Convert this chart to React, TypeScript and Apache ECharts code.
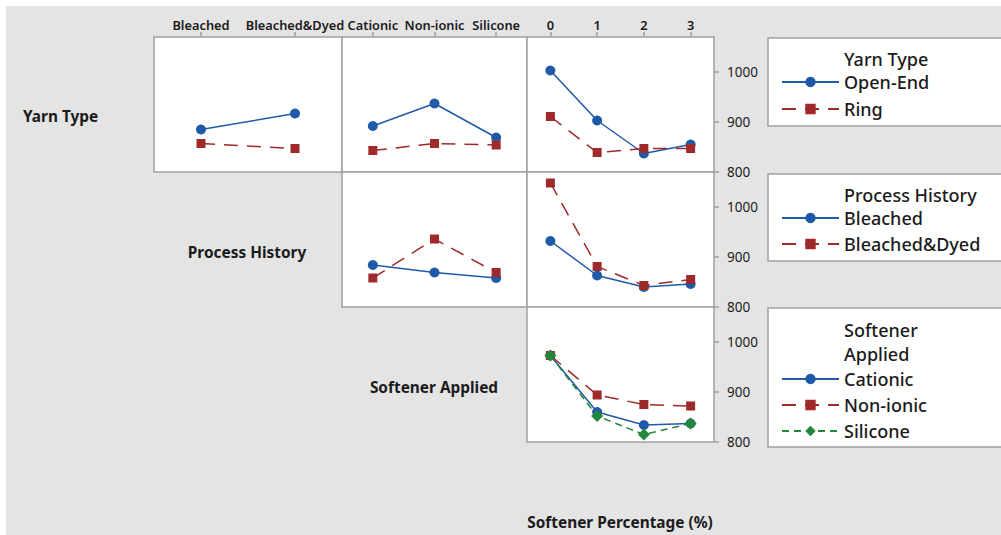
import React, { useEffect, useRef } from "react";
import * as echarts from "echarts";

// ---- categories ----
const processHistory = ["Bleached", "Bleached&Dyed"];
const softeners = ["Cationic", "Non-ionic", "Silicone"];
const percentages = ["0", "1", "2", "3"];
const yarnTypes = ["Open-End", "Ring"];
const yTicks = [800, 900, 1000];
const yMax = 1070;

// ---- means ----
// Row: Yarn Type
const openEndByProcess = [885, 917];
const ringByProcess = [857, 847];
const openEndBySoftener = [892, 937, 869];
const ringBySoftener = [843, 857, 854];
const openEndByPercent = [1003, 903, 837, 855];
const ringByPercent = [911, 839, 847, 847];
// Row: Process History
const bleachedBySoftener = [884, 869, 858];
const dyedBySoftener = [858, 936, 869];
const bleachedByPercent = [932, 863, 840, 846];
const dyedByPercent = [1048, 881, 843, 855];
// Row: Softener Applied
const cationicByPercent = [973, 860, 834, 837];
const nonionicByPercent = [973, 894, 875, 872];
const siliconeByPercent = [973, 852, 815, 837];

const FONT = "'Noto Sans', 'Open Sans', sans-serif";
const TXT = "#1b1b1b";
const BORDER = "#a0a0a0";

const STY = [
  { color: "#1f5aa8", symbol: "circle", size: 10, type: "solid" as any },
  { color: "#9e2a2b", symbol: "rect", size: 9, type: [14, 9] as any },
  { color: "#23873b", symbol: "diamond", size: 12, type: [7, 5] as any },
];

// panel layout: [left, top, width, height]
const panels = [
  { rect: [154, 37, 188, 135], cats: processHistory, top: true, right: false },
  { rect: [342, 37, 185, 135], cats: softeners, top: true, right: false },
  { rect: [527, 37, 187, 135], cats: percentages, top: true, right: true },
  { rect: [342, 172, 185, 135], cats: softeners, top: false, right: false },
  { rect: [527, 172, 187, 135], cats: percentages, top: false, right: true },
  { rect: [527, 307, 187, 135], cats: percentages, top: false, right: true },
];

function mk(name: string, data: number[], panel: number, s: number) {
  const st = STY[s];
  return {
    type: "line",
    name,
    xAxisIndex: panel,
    yAxisIndex: panel,
    data,
    symbol: st.symbol,
    symbolSize: st.size,
    itemStyle: { color: st.color },
    lineStyle: { color: st.color, width: 1.5, type: st.type },
    z: 2 + s,
  };
}

export default function App() {
  const ref = useRef<HTMLDivElement>(null);
  useEffect(() => {
    if (!ref.current) return;
    const chart = echarts.init(ref.current, undefined, { renderer: "svg" });

    const grids = panels.map((p) => ({
      left: p.rect[0],
      top: p.rect[1],
      width: p.rect[2],
      height: p.rect[3],
      show: true,
      backgroundColor: "#ffffff",
      borderColor: BORDER,
      borderWidth: 1.5,
      containLabel: false,
    }));

    const xAxes = panels.map((p, i) => ({
      type: "category",
      gridIndex: i,
      position: "top",
      data: p.cats,
      boundaryGap: true,
      axisLine: { show: false },
      axisTick: {
        show: p.top,
        alignWithLabel: true,
        length: 5,
        lineStyle: { color: BORDER, width: 1.5 },
      },
      axisLabel: {
        show: p.top,
        interval: 0,
        margin: 6,
        color: TXT,
        fontFamily: FONT,
        fontSize: 12.8,
        fontWeight: 600,
      },
      splitLine: { show: false },
    }));

    const yAxes = panels.map((p, i) => ({
      type: "value",
      gridIndex: i,
      position: "right",
      min: yTicks[0],
      max: yMax,
      interval: yTicks[1] - yTicks[0],
      axisLine: { show: false },
      axisTick: {
        show: p.right,
        length: 5,
        lineStyle: { color: BORDER, width: 1.5 },
      },
      axisLabel: {
        show: p.right,
        margin: 13,
        color: TXT,
        fontFamily: FONT,
        fontSize: 13.5,
        showMaxLabel: false,
        formatter: (v: number) => (yTicks.includes(v) ? String(v) : ""),
      },
      splitLine: { show: false },
    }));

    const series = [
      mk(yarnTypes[0], openEndByProcess, 0, 0),
      mk(yarnTypes[1], ringByProcess, 0, 1),
      mk(yarnTypes[0], openEndBySoftener, 1, 0),
      mk(yarnTypes[1], ringBySoftener, 1, 1),
      mk(yarnTypes[0], openEndByPercent, 2, 0),
      mk(yarnTypes[1], ringByPercent, 2, 1),
      mk(processHistory[0], bleachedBySoftener, 3, 0),
      mk(processHistory[1], dyedBySoftener, 3, 1),
      mk(processHistory[0], bleachedByPercent, 4, 0),
      mk(processHistory[1], dyedByPercent, 4, 1),
      mk(softeners[0], cationicByPercent, 5, 0),
      mk(softeners[1], nonionicByPercent, 5, 1),
      mk(softeners[2], siliconeByPercent, 5, 2),
    ];

    const legendCommon = {
      orient: "vertical",
      left: 776,
      itemWidth: 57,
      itemHeight: 13,
      itemGap: 6,
      selectedMode: false,
      textStyle: {
        color: TXT,
        fontFamily: FONT,
        fontSize: 18,
        fontWeight: 500,
        lineHeight: 20,
      },
    };

    const boxText = (x: number, y: number, text: string, size = 18, weight: any = 500, align = "left") => ({
      type: "text",
      x,
      y,
      z: 10,
      style: {
        text,
        fill: TXT,
        font: `${weight} ${size}px ${FONT}`,
        textAlign: align,
        textVerticalAlign: "middle",
      },
    });

    const legendBox = (y: number, h: number) => ({
      type: "rect",
      shape: { x: 768, y, width: 260, height: h },
      z: 1,
      style: { fill: "#ffffff", stroke: BORDER, lineWidth: 1.5 },
    });

    chart.setOption({
      animation: false,
      backgroundColor: "#e4e4e4",
      grid: grids,
      xAxis: xAxes,
      yAxis: yAxes,
      series,
      legend: [
        { ...legendCommon, top: 67, itemGap: 7, data: yarnTypes },
        { ...legendCommon, top: 203, data: processHistory },
        { ...legendCommon, top: 364, data: softeners },
      ],
      graphic: [
        { type: "rect", shape: { x: 0, y: 0, width: 1001, height: 6 }, style: { fill: "#ffffff" } },
        { type: "rect", shape: { x: 0, y: 0, width: 6, height: 535 }, style: { fill: "#ffffff" } },
        legendBox(38, 88),
        legendBox(174, 87),
        legendBox(308, 139),
        boxText(844, 59, "Yarn Type"),
        boxText(844, 195, "Process History"),
        boxText(844, 330, "Softener"),
        boxText(844, 354, "Applied"),
        boxText(23, 116, "Yarn Type", 15.4, "bold"),
        boxText(247, 252, "Process History", 15.4, "bold", "center"),
        boxText(434, 387, "Softener Applied", 15.4, "bold", "center"),
        boxText(620, 522, "Softener Percentage (%)", 15.4, "bold", "center"),
      ],
    });
    return () => chart.dispose();
  }, []);
  return (
    <div
      ref={ref}
      style={{ position: "fixed", left: 0, top: 0, width: 1001, height: 535 }}
    />
  );
}
